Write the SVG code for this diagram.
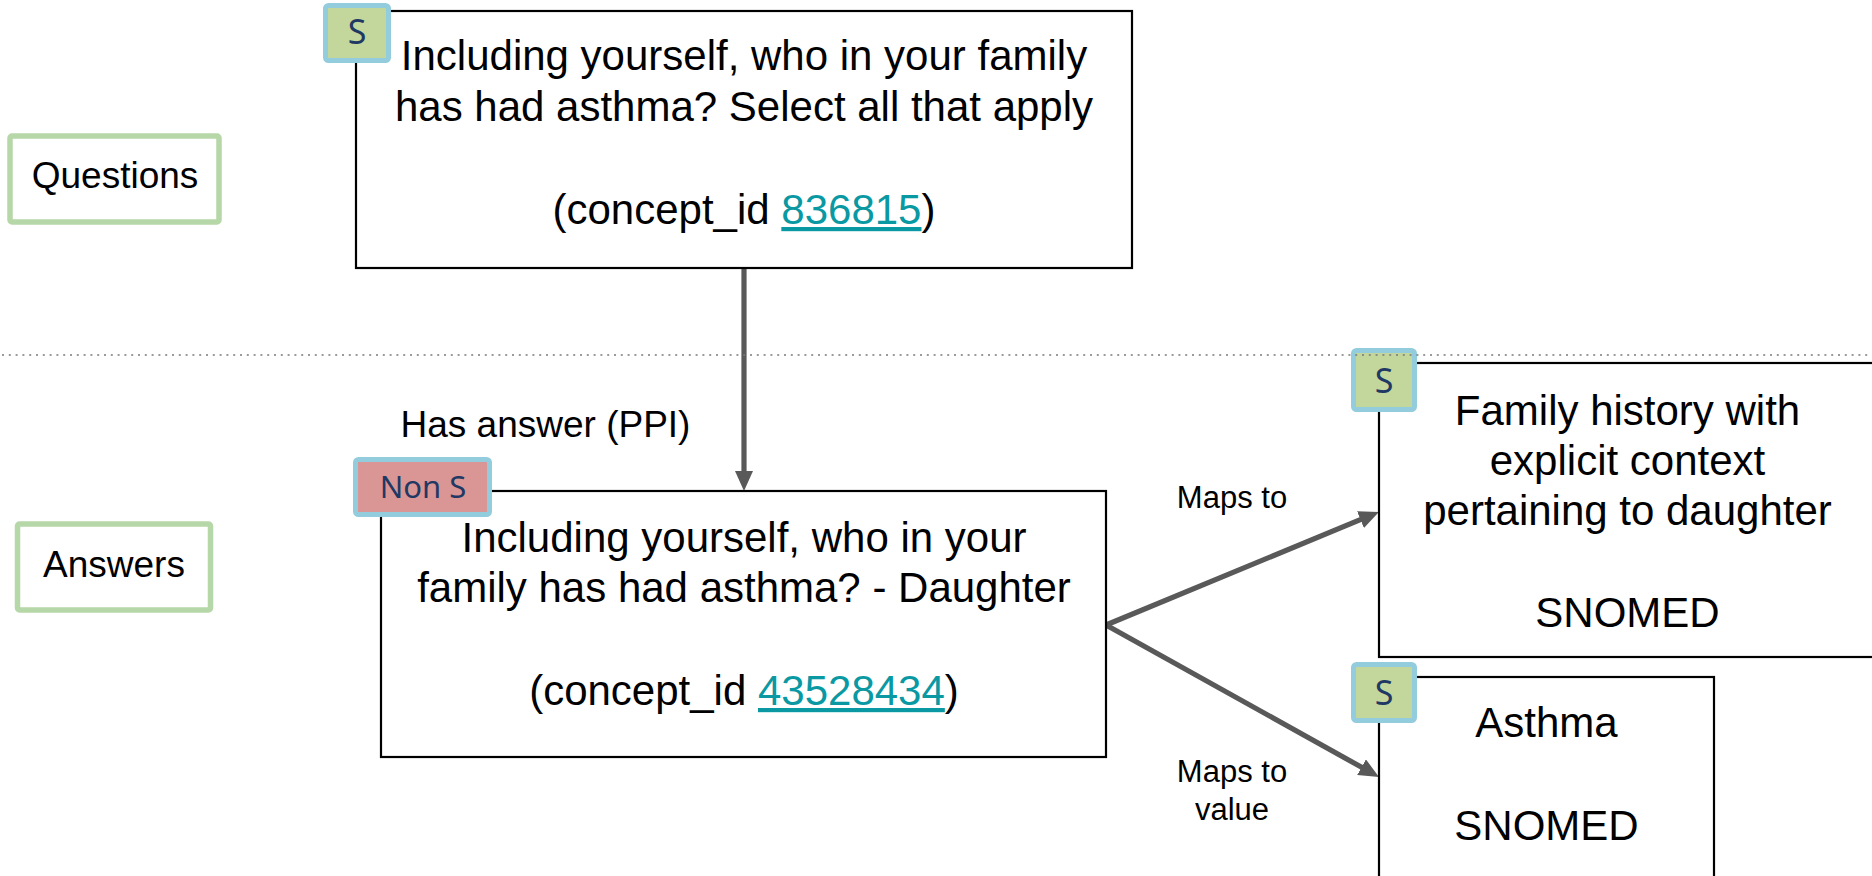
<svg xmlns="http://www.w3.org/2000/svg" width="1872" height="876" viewBox="0 0 1872 876">
<style>
.bg{fill:#ffffff}
.box{fill:#ffffff;stroke:#000000;stroke-width:2.2}
.lbl{fill:#ffffff;stroke:#B6D7A7;stroke-width:5.5}
.bs{fill:#C3D69B;stroke:#93CDDD;stroke-width:5}
.bn{fill:#D99694;stroke:#93CDDD;stroke-width:5}
.t{font-family:"Liberation Sans",Arial,sans-serif;fill:#000000;text-anchor:middle}
.big{font-size:42px}
.mid{font-size:37px}
.sm{font-size:31px}
.badge{font-family:"Noto Sans","Open Sans",sans-serif;font-size:31px;fill:#1F3864;text-anchor:middle}
.bigs{font-size:34px}
.link{fill:#0A99A3;text-decoration:underline}
.conn{stroke:#595959;stroke-width:5.2;fill:none}
.dot{stroke:#7A7A7A;stroke-width:1.7;stroke-dasharray:2 4.8;fill:none}
</style>
<defs>
<marker id="arr" viewBox="0 0 20 18" refX="9" refY="9" markerWidth="20" markerHeight="18" markerUnits="userSpaceOnUse" orient="auto">
<path d="M0,0 L20,9 L0,18 z" fill="#595959"/>
</marker>
</defs>
<rect class="bg" x="0" y="0" width="1872" height="876"/>

<g id="label-questions">
<rect class="lbl" x="10" y="136" width="209" height="86" rx="2"/>
<text class="t mid" x="115" y="188">Questions</text>
</g>

<g id="label-answers">
<rect class="lbl" x="17.5" y="524" width="193" height="86" rx="2"/>
<text class="t mid" x="114" y="577">Answers</text>
</g>

<g id="connectors">
<line class="conn" x1="744" y1="268" x2="744" y2="480" marker-end="url(#arr)"/>
<line class="conn" x1="1106" y1="625" x2="1368.8" y2="516.2" marker-end="url(#arr)"/>
<line class="conn" x1="1106" y1="625" x2="1369.4" y2="771.6" marker-end="url(#arr)"/>
<text class="t mid" x="545.5" y="437">Has answer (PPI)</text>
<text class="t sm" x="1232" y="508">Maps to</text>
<text class="t sm" x="1232" y="782">Maps to</text>
<text class="t sm" x="1232" y="820">value</text>
</g>

<g id="node-question">
<rect class="box" x="356" y="11" width="776" height="257"/>
<text class="t big" x="744" y="70">Including yourself, who in your family</text>
<text class="t big" x="744" y="121">has had asthma? Select all that apply</text>
<text class="t big" x="744" y="224">(concept_id <tspan class="link">836815</tspan>)</text>
<rect class="bs" x="325.5" y="5.5" width="63" height="55" rx="3"/>
<text class="badge bigs" x="357" y="44">S</text>
</g>

<g id="node-answer">
<rect class="box" x="381" y="491" width="725" height="266"/>
<text class="t big" x="744" y="552">Including yourself, who in your</text>
<text class="t big" x="744" y="602">family has had asthma? - Daughter</text>
<text class="t big" x="744" y="705">(concept_id <tspan class="link">43528434</tspan>)</text>
<rect class="bn" x="355.5" y="459.5" width="134" height="55" rx="3"/>
<text class="badge" x="423" y="498">Non S</text>
</g>

<g id="node-family-history">
<rect class="box" x="1379" y="363" width="520" height="294"/>
<text class="t big" x="1627.5" y="425">Family history with</text>
<text class="t big" x="1627.5" y="475">explicit context</text>
<text class="t big" x="1627.5" y="525">pertaining to daughter</text>
<text class="t big" x="1627.5" y="627">SNOMED</text>
<rect class="bs" x="1353.5" y="350.5" width="61" height="59" rx="3"/>
<text class="badge bigs" x="1384" y="393">S</text>
</g>

<g id="node-asthma">
<rect class="box" x="1379" y="677" width="335" height="230"/>
<text class="t big" x="1546.5" y="737">Asthma</text>
<text class="t big" x="1546.5" y="840">SNOMED</text>
<rect class="bs" x="1353.5" y="664.5" width="61" height="56" rx="3"/>
<text class="badge bigs" x="1384" y="705">S</text>
</g>

<line class="dot" x1="2" y1="355" x2="1872" y2="355"/>
</svg>
